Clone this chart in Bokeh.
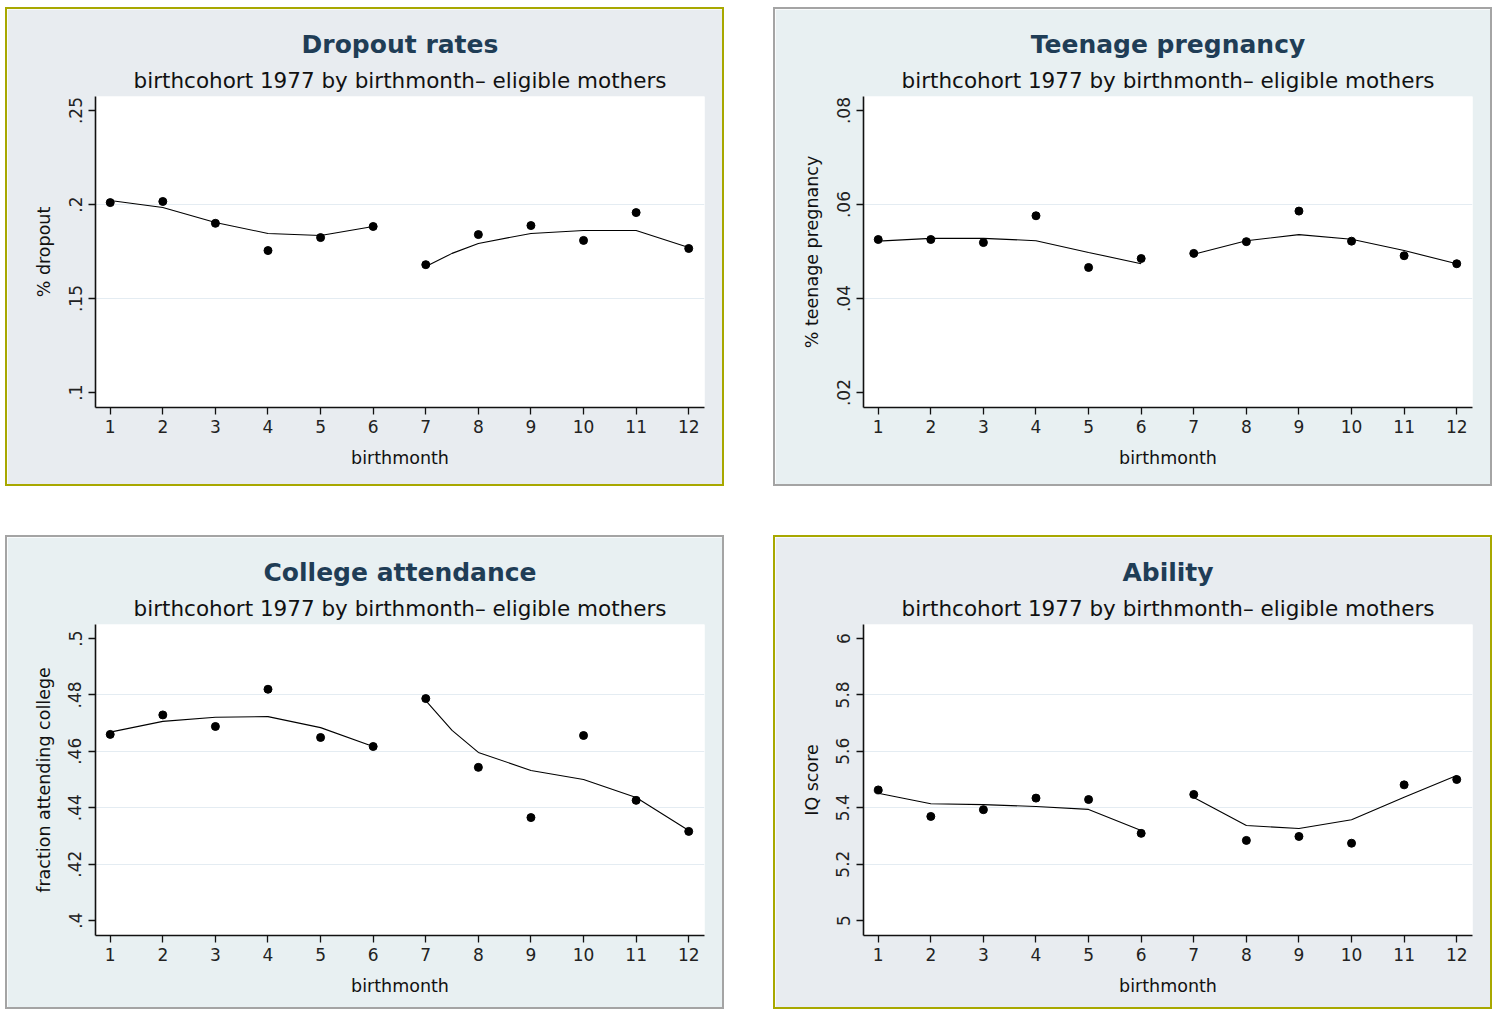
from bokeh.plotting import figure
from bokeh.layouts import row, column
from bokeh.models import FixedTicker, Range1d, Title
from bokeh.embed import file_html
from bokeh.resources import INLINE

# ---------------- data ----------------
months = [1, 2, 3, 4, 5, 6, 7, 8, 9, 10, 11, 12]
month_labels = ["1", "2", "3", "4", "5", "6", "7", "8", "9", "10", "11", "12"]

subtitle_text = "birthcohort 1977 by birthmonth\u2013 eligible mothers"

# Dropout rates
dropout_titles = ["Dropout rates", "% dropout"]
dropout = [0.2010, 0.2016, 0.1900, 0.1755, 0.1824, 0.1883,
           0.1680, 0.1840, 0.1888, 0.1809, 0.1957, 0.1766]
dropout_fit_left_x = [1, 2, 3, 4, 5, 6]
dropout_fit_left = [0.2021, 0.1984, 0.1904, 0.1846, 0.1835, 0.1883]
dropout_fit_right_x = [7, 7.5, 8, 9, 10, 11, 12]
dropout_fit_right = [0.1670, 0.1740, 0.1793, 0.1846, 0.1862, 0.1862, 0.1771]
dropout_ticks = [0.10, 0.15, 0.20, 0.25]
dropout_tick_labels = [".1", ".15", ".2", ".25"]

# Teenage pregnancy
teen_titles = ["Teenage pregnancy", "% teenage pregnancy"]
teen = [0.05255, 0.05255, 0.0519, 0.0576, 0.0466, 0.0485,
        0.0496, 0.0521, 0.0586, 0.0522, 0.0491, 0.0474]
teen_fit_left_x = [1, 2, 3, 4, 5, 6]
teen_fit_left = [0.0522, 0.0528, 0.0528, 0.0523, 0.0498, 0.0474]
teen_fit_right_x = [7, 8, 9, 10, 11, 12]
teen_fit_right = [0.0494, 0.0523, 0.0536, 0.0526, 0.0502, 0.0474]
teen_ticks = [0.02, 0.04, 0.06, 0.08]
teen_tick_labels = [".02", ".04", ".06", ".08"]

# College attendance
college_titles = ["College attendance", "fraction attending college"]
college = [0.4660, 0.4729, 0.4688, 0.4820, 0.4649, 0.4617,
           0.4787, 0.4543, 0.4365, 0.4656, 0.4426, 0.4316]
college_fit_left_x = [1, 2, 3, 4, 5, 6]
college_fit_left = [0.4668, 0.4706, 0.4721, 0.4723, 0.4684, 0.4617]
college_fit_right_x = [7, 7.5, 8, 9, 10, 11, 12]
college_fit_right = [0.4780, 0.4674, 0.4596, 0.4532, 0.4500, 0.4436, 0.4319]
college_ticks = [0.40, 0.42, 0.44, 0.46, 0.48, 0.50]
college_tick_labels = [".4", ".42", ".44", ".46", ".48", ".5"]

# Ability
ability_titles = ["Ability", "IQ score"]
ability = [5.463, 5.369, 5.393, 5.434, 5.429, 5.309,
           5.447, 5.284, 5.298, 5.274, 5.481, 5.500]
ability_fit_left_x = [1, 2, 3, 4, 5, 6]
ability_fit_left = [5.451, 5.414, 5.411, 5.404, 5.394, 5.319]
ability_fit_right_x = [7, 8, 9, 10, 11, 12]
ability_fit_right = [5.436, 5.337, 5.326, 5.357, 5.437, 5.514]
ability_ticks = [5.0, 5.2, 5.4, 5.6, 5.8, 6.0]
ability_tick_labels = ["5", "5.2", "5.4", "5.6", "5.8", "6"]

FONT = "DejaVu Sans"
OLIVE = "#a8a800"
GRAY = "#a4a4a4"
PANEL_W = 719
TOP = 87
LEFT = 88
FW = 609
FH = 311


def make_panel(titles, vals, flx, fl, frx, fr, ticks, tick_labels,
               bg, border, height):
    title, ylabel = titles
    step = ticks[1] - ticks[0]
    ppu = 94.0 if len(ticks) == 4 else 56.4
    y0 = ticks[0] - 15.0 * step / ppu
    y1 = ticks[-1] + 14.0 * step / ppu
    p = figure(width=PANEL_W, height=height, output_backend="svg",
               toolbar_location=None,
               x_range=Range1d(0.72, 12.3), y_range=Range1d(y0, y1),
               min_border_left=LEFT, min_border_right=PANEL_W - LEFT - FW,
               min_border_top=TOP, min_border_bottom=height - TOP - FH)
    p.border_fill_color = bg
    p.background_fill_color = "white"
    p.outline_line_color = None
    p.styles = {"border": "2px solid " + border}

    p.xgrid.visible = False
    p.ygrid.ticker = FixedTicker(ticks=ticks[1:-1])
    p.ygrid.grid_line_color = "#e4ecf2"
    p.ygrid.grid_line_width = 1

    for ax in (p.xaxis[0], p.yaxis[0]):
        ax.axis_line_color = "#111111"
        ax.axis_line_width = 1.6
        ax.major_tick_line_color = "#111111"
        ax.major_tick_line_width = 1.3
        ax.major_tick_out = 7
        ax.major_tick_in = 0
        ax.minor_tick_line_color = None
        ax.major_label_text_font = FONT
        ax.major_label_text_font_size = "17px"
        ax.major_label_text_color = "#222222"
        ax.axis_label_text_font = FONT
        ax.axis_label_text_font_size = "17.5px"
        ax.axis_label_text_font_style = "normal"
        ax.axis_label_text_color = "#111111"

    p.xaxis.ticker = FixedTicker(ticks=months)
    p.xaxis.major_label_overrides = {m: s for m, s in zip(months, month_labels)}
    p.xaxis.axis_label = "birthmonth"
    p.xaxis.major_label_standoff = 5
    p.xaxis.axis_label_standoff = 12

    p.yaxis.ticker = FixedTicker(ticks=ticks)
    p.yaxis.major_label_overrides = {t: s for t, s in zip(ticks, tick_labels)}
    p.yaxis.major_label_orientation = "vertical"
    p.yaxis.axis_label = ylabel
    p.yaxis.major_label_standoff = 7
    p.yaxis.axis_label_standoff = 12

    p.line(flx, fl, line_color="black", line_width=1.1)
    p.line(frx, fr, line_color="black", line_width=1.1)
    p.scatter(months, vals, size=8, color="black")

    p.add_layout(Title(text=subtitle_text, align="center", standoff=7,
                       text_font=FONT, text_font_size="21.5px",
                       text_font_style="normal", text_color="#111111"),
                 "above")
    p.add_layout(Title(text=title, align="center", standoff=8,
                       text_font=FONT, text_font_size="25px",
                       text_font_style="bold", text_color="#1f3d56"),
                 "above")
    return p


p1 = make_panel(dropout_titles, dropout, dropout_fit_left_x, dropout_fit_left,
                dropout_fit_right_x, dropout_fit_right, dropout_ticks,
                dropout_tick_labels, "#e8ecf0", OLIVE, 479)
p2 = make_panel(teen_titles, teen, teen_fit_left_x, teen_fit_left,
                teen_fit_right_x, teen_fit_right, teen_ticks,
                teen_tick_labels, "#e8f0f2", GRAY, 479)
p3 = make_panel(college_titles, college, college_fit_left_x, college_fit_left,
                college_fit_right_x, college_fit_right, college_ticks,
                college_tick_labels, "#e8f0f2", GRAY, 474)
p4 = make_panel(ability_titles, ability, ability_fit_left_x, ability_fit_left,
                ability_fit_right_x, ability_fit_right, ability_ticks,
                ability_tick_labels, "#e8ecf0", OLIVE, 474)

layout = column(row(p1, p2, spacing=49), row(p3, p4, spacing=49), spacing=49,
                styles={"margin-left": "5px", "margin-top": "7px"})

open("out.html", "w").write(file_html(layout, INLINE))
